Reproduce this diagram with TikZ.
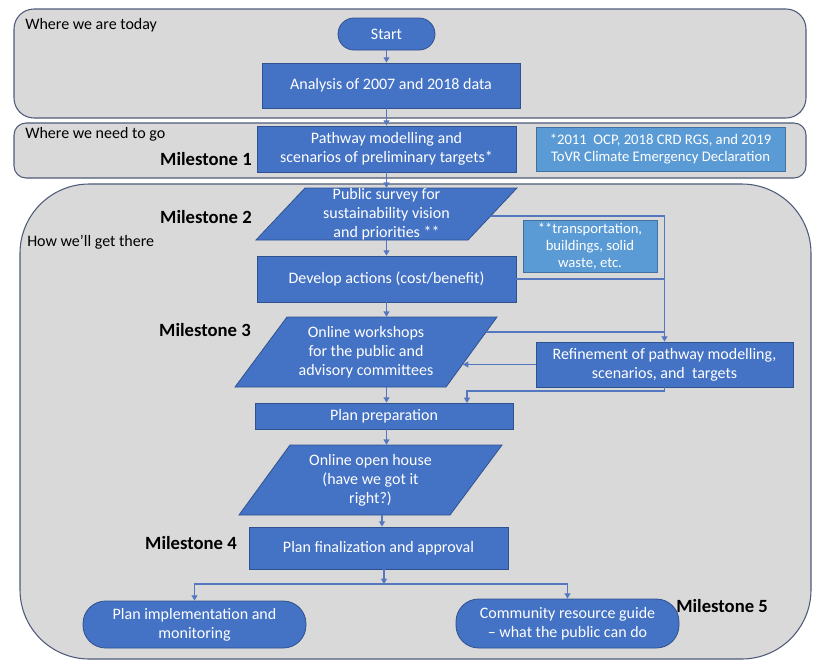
\documentclass[tikz,border=0pt]{standalone}
\usepackage{fontspec}
\setmainfont{Carlito}
\usetikzlibrary{arrows.meta,calc}
\definecolor{boxblue}{HTML}{4472C4}
\definecolor{boxedge}{HTML}{2F528F}
\definecolor{noteblue}{HTML}{5B9BD5}
\definecolor{noteedge}{HTML}{41719C}
\definecolor{panelfill}{HTML}{D9D9D9}
\definecolor{paneledge}{HTML}{4F5B78}
\definecolor{linkblue}{HTML}{5577BF}
\begin{document}
\begin{tikzpicture}[x=0.75pt,y=-0.75pt,
  box/.style={draw=boxedge, line width=0.6pt, fill=boxblue, text=white, inner sep=0pt, align=center, font=\fontsize{12}{14}\selectfont},
  pill/.style={box, rounded corners=#1},
  note/.style={draw=noteedge, fill=noteblue, line width=0.6pt, text=white, inner sep=0pt, align=center, font=\fontsize{11}{12.9}\selectfont},
  ptext/.style={inner sep=0pt, text=white, align=center, font=\fontsize{12}{14.25}\selectfont},
  para/.style={draw=boxedge, line width=0.6pt, fill=boxblue},
  panel/.style={draw=paneledge, line width=0.8pt, fill=panelfill},
  plabel/.style={anchor=west, inner sep=0pt, font=\fontsize{12}{14}\selectfont},
  mile/.style={anchor=east, inner sep=0pt, font=\fontsize{14}{16}\selectfont\bfseries},
  link/.style={draw=linkblue, line width=0.9pt},
  arr/.style={link, -{Triangle[width=4.5pt,length=4pt]}},
]
\useasboundingbox (0,0) rectangle (826,669);

% panels
\draw[panel, rounded corners=15pt] (14,9) rectangle (806,118);
\draw[panel, rounded corners=9pt] (14,123) rectangle (806,178);
\draw[panel, rounded corners=52pt] (20,184) rectangle (811,659);

\node[plabel] (lab1) at (25,25) {Where we are today};
\node[plabel] (lab2) at (25,134) {Where we need to go};
\node[plabel] (lab3) at (27,242) {How we’ll get there};

\node[mile] (m1) at (252,159) {Milestone 1};
\node[mile] (m2) at (252,217) {Milestone 2};
\node[mile] (m3) at (251,330) {Milestone 3};
\node[mile] (m4) at (237,543) {Milestone 4};
\node[mile, anchor=west] (m5) at (676,606) {Milestone 5};

% boxes
\node[pill=12pt, minimum width=97*0.75pt, minimum height=32*0.75pt] (start) at (386.5,34) {Start};
\node[box, minimum width=258*0.75pt, minimum height=45*0.75pt] (analysis) at (391,85.5) {Analysis of 2007 and 2018 data};
\node[box, minimum width=259*0.75pt, minimum height=46*0.75pt] (pathway) at (386.5,149) {Pathway modelling and\\scenarios of preliminary targets*};
\node[note, minimum width=249*0.75pt, minimum height=44*0.75pt] (note1) at (660.5,149) {*2011\ \ OCP, 2018 CRD RGS, and 2019\\ToVR Climate Emergency Declaration};

\fill[para] (305,188) -- (517,188) -- (468,240) -- (256,240) -- cycle;
\node[ptext, minimum height=52*0.75pt] (survey) at (386.5,214) {Public survey for\\sustainability vision\\and priorities **};

\node[note, minimum width=134*0.75pt, minimum height=52*0.75pt] (note2) at (590,246) {**transportation,\\buildings, solid\\waste, etc.};

\node[box, minimum width=259*0.75pt, minimum height=46*0.75pt] (develop) at (386.5,279) {Develop actions (cost/benefit)};

\fill[para] (287,317) -- (497,317) -- (446,387) -- (235,387) -- cycle;
\node[ptext, minimum height=70*0.75pt] (workshops) at (366,352) {Online workshops\\for the public and\\advisory committees};

\node[box, minimum width=257*0.75pt, minimum height=45*0.75pt] (refine) at (664.5,364.5) {Refinement of pathway modelling,\\scenarios, and\ \ targets};

\node[box, minimum width=258*0.75pt, minimum height=26*0.75pt] (prep) at (384,416) {Plan preparation};

\fill[para] (290,445) -- (502,445) -- (450,515) -- (239,515) -- cycle;
\node[ptext, minimum height=70*0.75pt] (openhouse) at (370.5,480) {Online open house\\(have we got it\\right?)};

\node[box, minimum width=259*0.75pt, minimum height=42*0.75pt] (final) at (378.5,548) {Plan finalization and approval};

\node[pill=17pt, minimum width=223*0.75pt, minimum height=47*0.75pt] (impl) at (194.5,624.5) {Plan implementation and\\monitoring};
\node[pill=17pt, minimum width=223*0.75pt, minimum height=49*0.75pt] (comm) at (567.5,623.5) {Community resource guide\\– what the public can do};

% connector points
\coordinate (sv) at (491,216);
\coordinate (wk) at (486,332);
\coordinate (wkin) at (463,364.5);
\coordinate (rb) at (664.5,391);
\coordinate (prepin) at (467,403);
\coordinate (junc) at (384,584);

% main flow
\draw[arr] (start.south) -- (start.south |- analysis.north);
\draw[arr] (start.south |- analysis.south) -- (start.south |- pathway.north);
\draw[arr] (pathway.south) -- (survey.north);
\draw[arr] (survey.south) -- (develop.north);
\draw[arr] (develop.south) -- (develop.south |- workshops.north);
\draw[arr] (develop.south |- workshops.south) -- (develop.south |- prep.north);
\draw[arr] (develop.south |- prep.south) -- (develop.south |- openhouse.north);
\draw[arr] ([xshift=3.5*0.75pt]final.north |- openhouse.south) -- ([xshift=3.5*0.75pt]final.north);

% feedback loop on the right
\draw[arr] (sv) -| (refine.north);
\draw[link] (develop.east) -- (develop.east -| refine.north);
\draw[link] (wk) -- (wk -| refine.north);
\draw[arr] (refine.west) -- (wkin);
\draw[arr] (refine.south) -- (rb) -| (prepin);

% final branches
\draw[arr] (final.south -| junc) -- (junc);
\draw[arr] (junc) -| (impl.north);
\draw[arr] (junc) -| (comm.north);
\end{tikzpicture}
\end{document}
